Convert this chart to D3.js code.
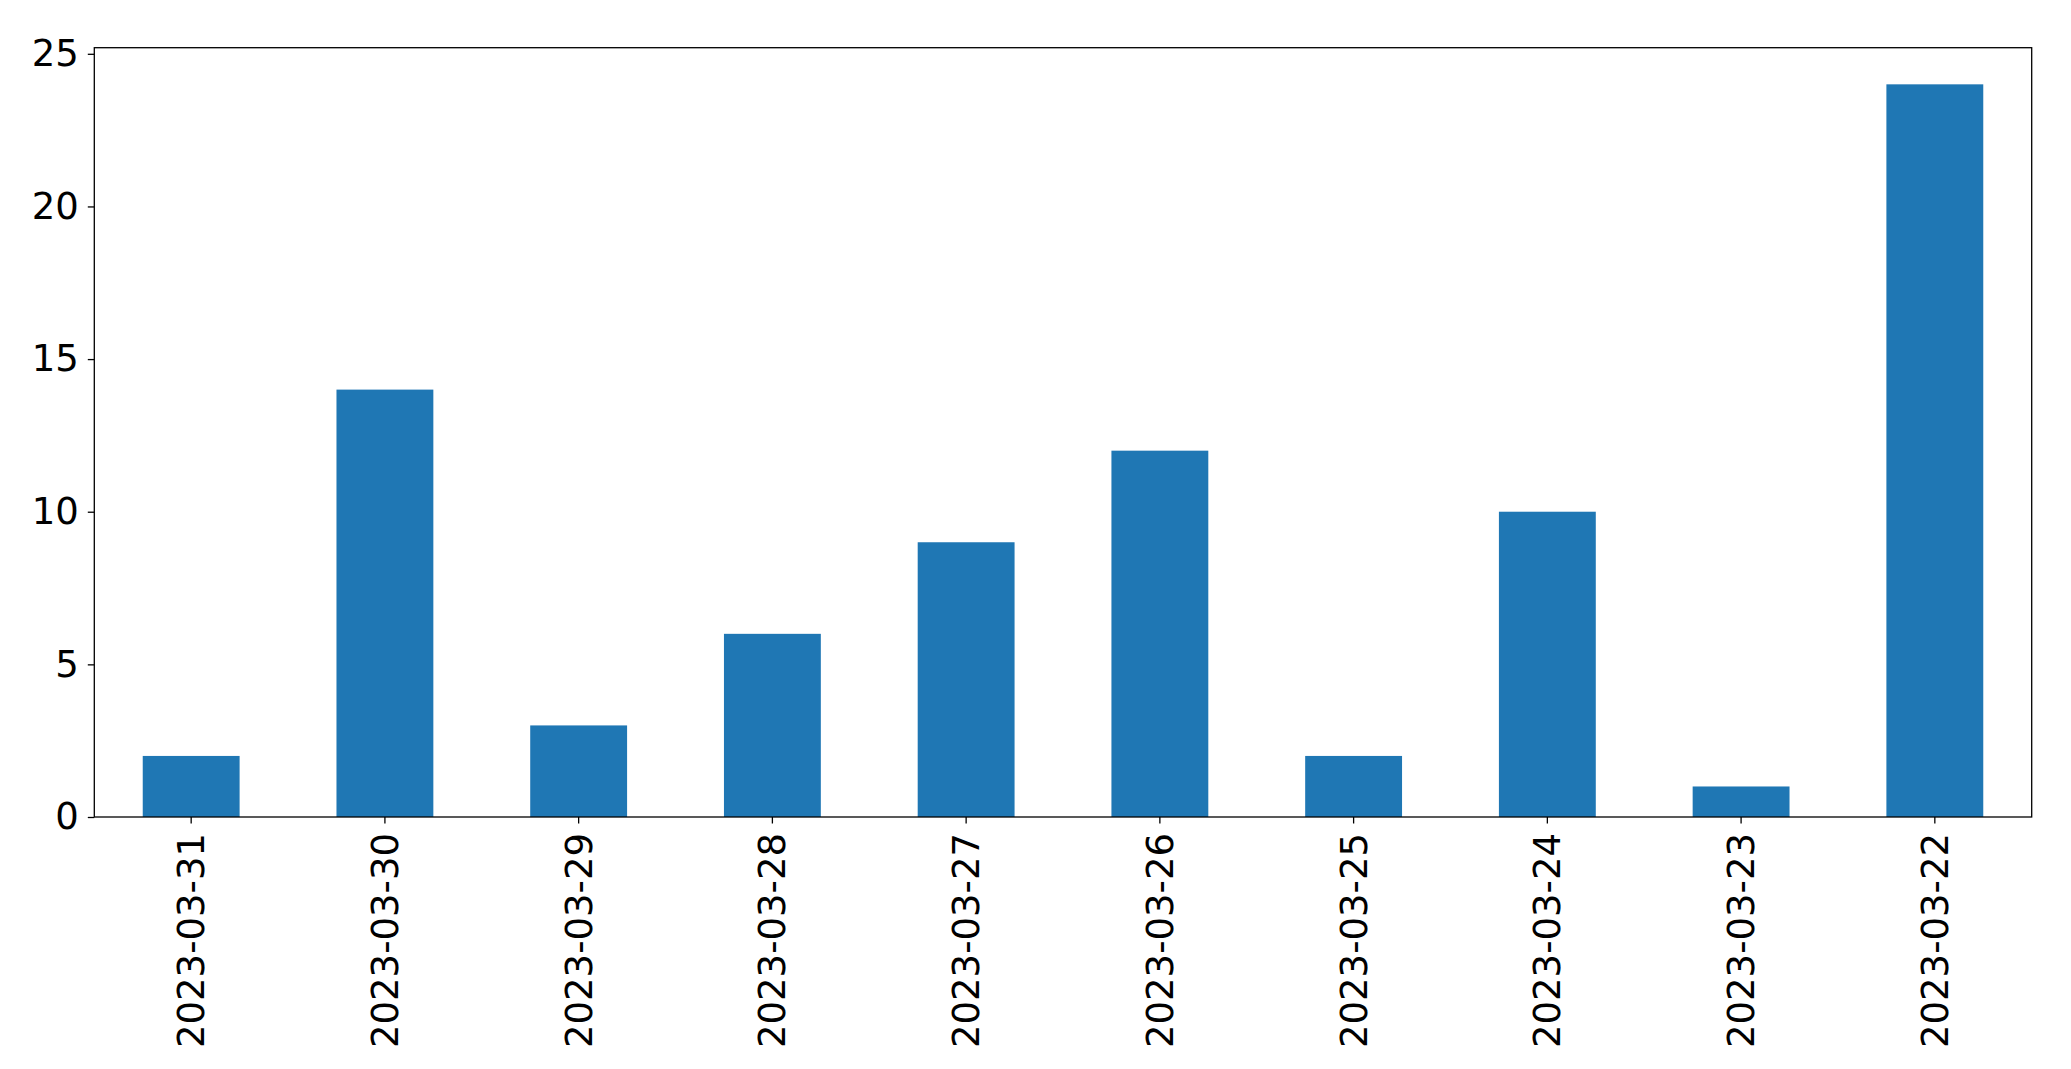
<!DOCTYPE html>
<html><head><meta charset="utf-8">
<script src="https://cdn.jsdelivr.net/npm/d3@7"></script>
<style>body{margin:0;background:#fff}</style>
</head><body>
<svg id="chart" width="2071" height="1069"></svg>
<script>
var dates = ["2023-03-31","2023-03-30","2023-03-29","2023-03-28","2023-03-27","2023-03-26","2023-03-25","2023-03-24","2023-03-23","2023-03-22"];
var counts = [2,14,3,6,9,12,2,10,1,24];
var yTicks = [0,5,10,15,20,25];

var m = {left:94.3, top:47.7, right:2071-2031.7, bottom:1069-817};
var svg = d3.select('#chart');
var w = 2071 - m.left - m.right, h = 1069 - m.top - m.bottom;
var g = svg.append('g').attr('transform','translate('+m.left+','+m.top+')');

var x = d3.scaleBand().domain(dates).range([0,w]).paddingInner(0.5).paddingOuter(0.25);
var y = d3.scaleLinear().domain([0,25.2]).range([h,0]);

g.selectAll('.bar').data(counts).enter().append('rect')
  .attr('x',(d,i)=>x(dates[i])).attr('width',x.bandwidth())
  .attr('y',d=>y(d)).attr('height',d=>h-y(d)).attr('fill','#1f77b4');

var font = 'DejaVu Sans';
var ya = g.append('g').call(d3.axisLeft(y).tickValues(yTicks).tickSize(6.5).tickPadding(9));
ya.selectAll('text').attr('font-family',font).attr('font-size',37).attr('fill','#000');
var xa = g.append('g').attr('transform','translate(0,'+h+')')
  .call(d3.axisBottom(x).tickSize(6.5).tickPadding(10));
xa.selectAll('text').attr('font-family',font).attr('font-size',37).attr('fill','#000')
  .attr('transform','rotate(-90)').attr('text-anchor','end').attr('dy','0.35em').attr('x',-16).attr('y',0);
svg.selectAll('.domain').remove();
svg.selectAll('.tick line').attr('stroke','#000').attr('stroke-width',1.3);
g.append('rect').attr('width',w).attr('height',h).attr('fill','none').attr('stroke','#000').attr('stroke-width',1.3);
</script>
</body></html>
